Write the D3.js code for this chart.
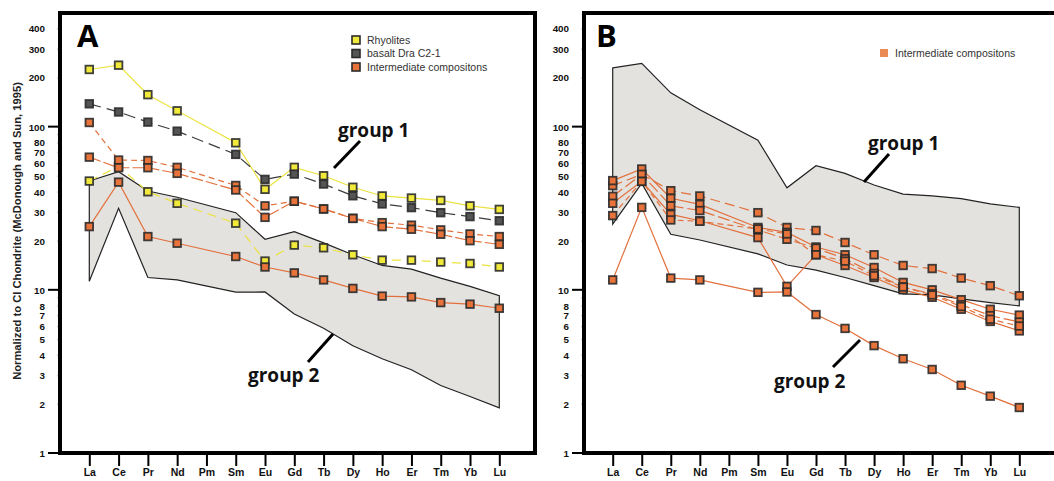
<!DOCTYPE html>
<html>
<head>
<meta charset="utf-8">
<script src="https://cdn.jsdelivr.net/npm/d3@7"></script>
<style>
  body { margin: 0; background: #ffffff; }
  text { font-family: "Liberation Sans", Arial, sans-serif; }
</style>
</head>
<body>
<div id="dataviz"></div>
<script>
// REE elements and y ticks
const elements = ["La","Ce","Pr","Nd","Pm","Sm","Eu","Gd","Tb","Dy","Ho","Er","Tm","Yb","Lu"];
const yTicks = [1,2,3,4,5,6,7,8,9,10,20,30,40,50,60,70,80,90,100,200,300,400];
const yLabels = [1,2,3,4,5,6,7,8,10,20,30,40,50,60,70,80,100,200,300,400];
const yMajor = [1,10,100];

// panel A
const rhyoliteA1 = [224,238,157,125,null,79.6,41.3,56.3,50,42.5,37.6,36.5,35.3,32.7,31.1];
const rhyoliteA2 = [46.4,57,39.9,33.9,null,25.6,15.0,18.8,18.1,16.4,15.2,15.2,14.8,14.5,13.8];
const basaltA = [138,123,106.6,93.8,null,67.6,47.5,51.2,44.5,37.7,33.6,31.9,29.7,28.1,26.5];
const interA1 = [106,62.4,62,56.3,null,43.6,32.7,34.9,31.3,27.4,25.8,24.9,23.3,22.0,21.2];
const interA2 = [65,56,56,51.7,null,40.9,27.8,34.9,31.3,27.4,24.4,23.5,21.9,20.0,19.0];
const interA3 = [24.4,45.7,21.2,19.3,null,16.0,13.8,12.7,11.5,10.2,9.15,9.05,8.35,8.17,7.71];
const fieldA_top = [46.4,52.9,40.3,36.9,null,29.7,20.4,22.7,19.4,16.4,14.1,13.4,11.8,10.5,9.2];
const fieldA_bottom = [11.3,31.6,11.9,11.5,null,9.67,9.7,7.1,5.82,4.54,3.78,3.24,2.59,2.22,1.89];

// panel B
const fieldB_top = [229,244,161,127,null,82.6,42.2,57.6,51.7,43.9,38.6,37.6,36.2,33.6,32.0];
const fieldB_bottom = [25.3,44.9,21.9,20.2,null,16.6,14.2,13.2,11.9,10.6,9.44,9.3,8.8,8.35,7.97];
const interB1 = [43.5,51,40.5,37.6,null,29.7,24.1,23.1,19.5,16.4,14.1,13.5,11.8,10.6,9.2];
const interB2 = [46.7,55,36.4,33.4,null,24.1,22.5,18.3,16.4,13.7,11.1,10.0,8.7,7.6,7.0];
const interB3 = [37.4,51,32.7,30.6,null,23.3,20.4,18.0,15.5,12.6,10.4,9.45,8.1,6.95,6.35];
const interB4 = [33.9,46.2,29.0,26.5,null,20.9,10.5,16.4,14.1,11.9,10.0,9.0,7.6,6.4,5.6];
const interB5 = [28.5,46.2,26.8,26.3,null,23.6,22.0,16.4,15.0,12.2,10.4,9.3,7.9,6.6,6.0];
const interB6 = [11.5,32,11.8,11.5,null,9.65,9.7,7.05,5.8,4.55,3.78,3.25,2.6,2.23,1.9];

const YELLOW = "#f2ea3a", GREY = "#555555", ORANGE = "#e8743b";

var svg = d3.select("#dataviz")
  .append("svg")
    .attr("width", 1054)
    .attr("height", 481);

const y = d3.scaleLog().domain([1, 497]).range([453, 13]);

function drawPanel(p) {
  const x = d3.scalePoint().domain(elements).range(p.xRange);
  const g = svg.append("g");

  // y axis (minor ticks + labels)
  g.append("g")
    .attr("transform", `translate(${p.left}, 0)`)
    .style("font-size", "9.8px")
    .style("font-weight", "bold")
    .call(d3.axisLeft(y).tickValues(yTicks).tickSize(3).tickPadding(12)
      .tickFormat(d => yLabels.includes(d) ? d : ""))
    .call(a => a.select(".domain").remove())
    .call(a => a.selectAll("line").attr("stroke", "#cfcfcf").attr("stroke-width", 1.5))
    .call(a => a.selectAll("text").attr("fill", "#111").attr("dy", "0.35em"));

  g.selectAll(".major")
    .data(yMajor)
    .enter()
    .append("line")
      .attr("x1", p.left - 12)
      .attr("x2", p.left)
      .attr("y1", d => y(d))
      .attr("y2", d => y(d))
      .attr("stroke", "#000")
      .attr("stroke-width", 2);

  // x axis
  g.append("g")
    .attr("transform", `translate(0, 453)`)
    .style("font-size", "10.5px")
    .style("font-weight", "bold")
    .call(d3.axisBottom(x).tickSize(13).tickPadding(3))
    .call(a => a.select(".domain").remove())
    .call(a => a.selectAll("line").attr("stroke", "#000").attr("stroke-width", 2))
    .call(a => a.selectAll("text").attr("fill", "#111"));

  // shaded field
  const pts = d => elements.map((e, i) => [e, d[i]]).filter(q => q[1] != null);
  const top = pts(p.field[0]), bottom = pts(p.field[1]).reverse();
  g.append("path")
    .datum(top.concat(bottom))
    .attr("d", d => d3.line().x(q => x(q[0])).y(q => y(q[1]))(d) + "Z")
    .attr("fill", "#e4e2df")
    .attr("stroke", "#222")
    .attr("stroke-width", 1.2)
    .attr("stroke-linejoin", "miter");

  // series lines
  p.series.forEach(s => {
    g.append("path")
      .datum(pts(s.values))
      .attr("d", d3.line().x(d => x(d[0])).y(d => y(d[1])))
      .attr("fill", "none")
      .attr("stroke", s.line)
      .attr("stroke-width", 1.2)
      .attr("stroke-dasharray", s.dash);
  });

  // markers
  p.series.forEach(s => {
    g.selectAll(null)
      .data(pts(s.values))
      .enter()
      .append("rect")
        .attr("x", d => x(d[0]) - 3.8)
        .attr("y", d => y(d[1]) - 3.8)
        .attr("width", 7.6)
        .attr("height", 7.6)
        .attr("fill", s.fill)
        .attr("stroke", "#2b2b2b")
        .attr("stroke-opacity", 0.9)
        .attr("stroke-width", 1.8);
  });

  // frame
  g.append("rect")
    .attr("x", p.left)
    .attr("y", 13)
    .attr("width", p.right - p.left)
    .attr("height", 440)
    .attr("fill", "none")
    .attr("stroke", "#000")
    .attr("stroke-width", 4);

  // panel letter
  g.append("text")
    .attr("x", p.letterX)
    .attr("y", 47)
    .style("font-family", "'Open Sans', sans-serif")
    .style("font-weight", "bold")
    .style("font-size", "31px")
    .text(p.letter);

  // group labels and leaders
  p.notes.forEach(n => {
    g.append("text")
      .attr("x", n.tx)
      .attr("y", n.ty)
      .style("font-family", "'Open Sans', sans-serif")
      .style("font-weight", "bold")
      .style("font-size", "19px")
      .attr("fill", "#111")
      .text(n.text);
    g.append("line")
      .attr("x1", n.l[0]).attr("y1", n.l[1])
      .attr("x2", n.l[2]).attr("y2", n.l[3])
      .attr("stroke", "#000")
      .attr("stroke-width", 3);
  });

  // legend
  p.legend.forEach((l, i) => {
    g.append("rect")
      .attr("x", p.legendX - 4)
      .attr("y", p.legendY + i * 13.5 - 4)
      .attr("width", 8)
      .attr("height", 8)
      .attr("fill", l.fill)
      .attr("stroke", l.border ? "#2b2b2b" : "none")
      .attr("stroke-width", 1.6);
    g.append("text")
      .attr("x", p.legendX + 11)
      .attr("y", p.legendY + i * 13.5)
      .attr("dy", "0.35em")
      .style("font-size", "10.5px")
      .attr("fill", "#333")
      .text(l.name);
  });
}

drawPanel({
  letter: "A", letterX: 77, left: 60, right: 535, xRange: [89.3, 499.3],
  field: [fieldA_top, fieldA_bottom],
  series: [
    {values: rhyoliteA1, fill: YELLOW, line: "#ece23e", dash: null},
    {values: rhyoliteA2, fill: YELLOW, line: "#ece23e", dash: "9,6"},
    {values: basaltA, fill: GREY, line: "#3c3c3c", dash: "12,6"},
    {values: interA1, fill: ORANGE, line: "#e2703c", dash: "6,4"},
    {values: interA2, fill: ORANGE, line: "#e2703c", dash: "12,3"},
    {values: interA3, fill: ORANGE, line: "#e2703c", dash: null}
  ],
  notes: [
    {text: "group 1", tx: 338, ty: 137, l: [360, 141, 334, 168]},
    {text: "group 2", tx: 248, ty: 382, l: [308, 362, 333, 334]}
  ],
  legendX: 356, legendY: 40,
  legend: [
    {name: "Rhyolites", fill: YELLOW, border: true},
    {name: "basalt Dra C2-1", fill: GREY, border: true},
    {name: "Intermediate compositons", fill: ORANGE, border: true}
  ]
});

drawPanel({
  letter: "B", letterX: 596, left: 584, right: 1080, xRange: [612.7, 1019.3],
  field: [fieldB_top, fieldB_bottom],
  series: [
    {values: interB1, fill: ORANGE, line: "#e2703c", dash: "10,5"},
    {values: interB2, fill: ORANGE, line: "#e2703c", dash: null},
    {values: interB3, fill: ORANGE, line: "#e2703c", dash: "12,4"},
    {values: interB4, fill: ORANGE, line: "#e2703c", dash: null},
    {values: interB5, fill: ORANGE, line: "#e2703c", dash: "6,4"},
    {values: interB6, fill: ORANGE, line: "#e2703c", dash: null}
  ],
  notes: [
    {text: "group 1", tx: 868, ty: 150, l: [889, 154, 864, 182]},
    {text: "group 2", tx: 774, ty: 388, l: [833, 367, 860, 340]}
  ],
  legendX: 884, legendY: 53,
  legend: [
    {name: "Intermediate compositons", fill: "#ea8a55", border: false}
  ]
});

// y axis title
svg.append("text")
  .attr("transform", "translate(21, 231) rotate(-90)")
  .attr("text-anchor", "middle")
  .style("font-size", "11.2px")
  .style("font-weight", "bold")
  .attr("fill", "#222")
  .text("Normalized to CI Chondrite (McDonough and Sun, 1995)");
</script>
</body>
</html>
